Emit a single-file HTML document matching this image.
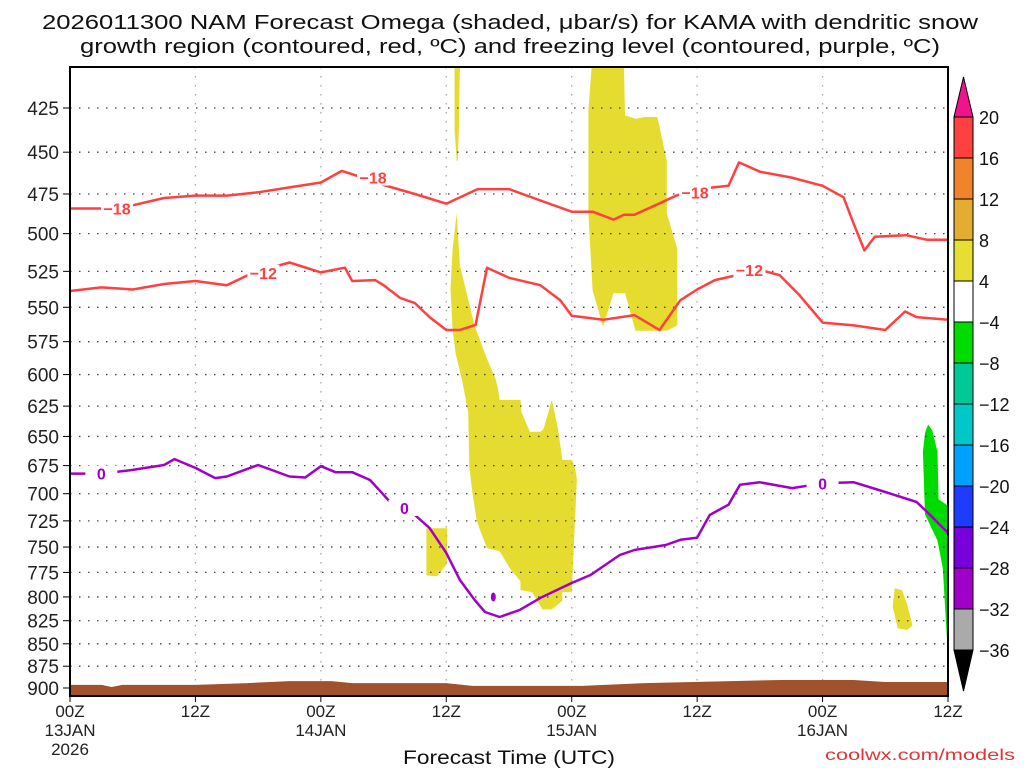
<!DOCTYPE html>
<html><head><meta charset="utf-8"><style>
html,body{margin:0;padding:0;background:#fff;width:1024px;height:768px;overflow:hidden}
svg text{font-family:"Liberation Sans",sans-serif}
</style></head><body>
<svg id="chart" width="1024" height="768" xmlns="http://www.w3.org/2000/svg">
<g id="plot"></g>
<g id="axes"></g>
<g id="cbar"></g>
<text x="510" y="29" text-anchor="middle" font-size="20" textLength="936" lengthAdjust="spacingAndGlyphs" fill="#111">2026011300 NAM Forecast Omega (shaded, μbar/s) for KAMA with dendritic snow</text>
<text x="510" y="53" text-anchor="middle" font-size="20" textLength="860" lengthAdjust="spacingAndGlyphs" fill="#111">growth region (contoured, red, ºC) and freezing level (contoured, purple, ºC)</text>
<text x="509" y="764" text-anchor="middle" font-size="19" textLength="212" lengthAdjust="spacingAndGlyphs" fill="#111">Forecast Time (UTC)</text>
<text x="1015" y="760" text-anchor="end" font-size="16" textLength="190" lengthAdjust="spacingAndGlyphs" fill="#e03535">coolwx.com/models</text>
</svg>
<script>
const NS="http://www.w3.org/2000/svg";
// ---- data ----
const xTickHours=[0,12,24,36,48,60,72,84];
const xTickLine1=["00Z","12Z","00Z","12Z","00Z","12Z","00Z","12Z"];
const xTickLine2=["13JAN","","14JAN","","15JAN","","16JAN",""];
const yTicks=[425,450,475,500,525,550,575,600,625,650,675,700,725,750,775,800,825,850,875,900];
const cbLevels=[20,16,12,8,4,-4,-8,-12,-16,-20,-24,-28,-32,-36];
const cbColors=["#ff4040","#f0842c","#e4ac30","#e6de32","#ffffff","#00dc00","#00c896","#00c8c8","#00a0ff","#1e3cff","#7800dc","#a000c8","#aaaaaa"];
const isoM18=[[0,484],[3,484],[6,482],[9,477.5],[12,476],[15,476],[18,474],[21,471],[24,468],[26,461],[27,463],[30,469.5],[33,475],[36,481],[39,472],[42,472],[45,479],[48,486],[50,486],[52,491],[53,488],[54,488],[56,482],[58,476],[60,472],[63,470],[64,456],[66,461.5],[69,465],[72,470],[74,477],[75,494],[76,511],[77,502],[80,501],[82,504],[84,504]];
const isoM12=[[0,538.5],[3,536],[6,537.5],[9,533.7],[12,531.6],[15,534.5],[17,527.6],[18,525],[21,519],[24,525.7],[26.3,522.5],[27,531.6],[29.2,531],[30,534.5],[31.6,543.4],[33,547],[34.4,557],[36,566.4],[37.3,566.4],[38.8,562.7],[39.9,522.5],[42,529.4],[45,534.5],[46.9,545],[48,556],[51,559],[54,555.6],[56.4,566.4],[58.4,545],[60,537.5],[61.7,531],[66,524],[67.9,527.6],[69.8,541.5],[72,561],[75,563],[78,566.4],[79.9,553],[81,557],[84,559]];
const iso0=[[0,682],[3,682],[6,678.8],[9,674.5],[10,669.3],[12,677],[13.9,686],[15,684.6],[18,674.5],[21,684.6],[22.5,685.5],[24,675.5],[25.4,680.8],[27,680.8],[28.7,687.7],[30,701],[31.1,713],[33,719.5],[34.4,731.8],[36,755.7],[37.3,782.7],[38.7,803],[39.7,815.7],[41.1,821],[43,813.7],[45,801],[48,785.7],[49.8,777.6],[52.6,757.8],[54,752.9],[57,748],[58.4,743],[60,741],[61.2,719.5],[63,710],[64.1,692],[66,689.7],[69.1,694.9],[72,690.6],[75,689.7],[78,698.4],[81,707.5],[82.3,719.5],[84,736.5]];
const ground=[[0,896.4],[3,896.4],[4,898.8],[5,896.4],[12,896.4],[17,894.3],[21,892],[25,892],[27,894.3],[36,894.3],[38.5,897.6],[43,897.6],[49,897.6],[55,894.3],[68,890.8],[75,890.8],[78,893],[84,893]];
const yellowA=[[36.8,403],[37.3,403],[37.2,437.5],[37.1,455],[37.0,455],[36.8,437.5]];
const yellowB=[[37.0,487],[37.3,521],[38.7,563],[39.9,588],[40.7,603],[40.9,609],[41.1,620],[43.1,620],[43.2,630],[44.0,646],[45.0,646],[45.3,644],[46.1,620],[46.7,644],[47.1,670],[48.0,670],[48.3,676],[48.5,687],[48.0,795],[47.1,795],[47.1,804],[46.1,813],[45.2,813],[44.2,795],[43.1,793],[43.1,784],[42.1,771],[41.1,754],[39.9,751],[39.2,733],[38.9,724],[38.5,699],[38.2,676],[38.1,630],[37.5,604],[36.9,584],[36.6,566],[36.4,537],[36.6,510]];
const yellowBlock=[[34.1,732],[36.1,732],[36.1,766],[35.1,779],[34.1,778]];
const yellowC=[[49.9,403],[53.0,403],[53.1,429],[54.1,431],[55.0,430],[56.2,430],[57.1,455],[57.1,487],[58.1,510],[58.1,563],[57.1,567],[54.1,567],[53.1,540],[52.0,540],[51.0,564],[50.0,538],[49.6,487],[49.6,426]];
const yellowD=[[78.9,791],[79.6,793],[80.1,808],[80.6,830],[80.1,835],[79.2,833],[78.7,810]];
const greenE=[[82.1,640],[82.5,645],[83.0,663],[83.1,705],[84,711],[84,843],[83.9,846],[83.5,771],[83.0,744],[81.8,719],[81.6,663],[81.8,647]];
const labelsM18=[[4.5,484],[29,465],[59.8,474]];
const labelsM12=[[18.5,526],[65,524]];
const labels0=[[3,682],[32,713],[72,690.6]];
const dot0=[40.5,800];
// ---- scales ----
const X0=70,X1=948,Ytop=67,Ybot=696,H=84;
const x=h=>X0+h*(X1-X0)/H;
const y=p=>108+773*Math.log(p/425);
const pts=a=>a.map(d=>x(d[0]).toFixed(1)+","+y(d[1]).toFixed(1)).join(" ");
function mk(tag,attrs,parent){const e=document.createElementNS(NS,tag);for(const k in attrs)e.setAttribute(k,attrs[k]);parent.appendChild(e);return e;}
const plot=document.getElementById("plot"),axes=document.getElementById("axes"),cbar=document.getElementById("cbar");
const defs=mk("defs",{},plot);
const cp=mk("clipPath",{id:"clip"},defs);mk("rect",{x:X0,y:Ytop,width:X1-X0,height:Ybot-Ytop},cp);
const g=mk("g",{"clip-path":"url(#clip)"},plot);
[[yellowA,"#e6dc30","shade-yellow-a"],[yellowB,"#e6dc30","shade-yellow-b"],[yellowBlock,"#e6dc30","shade-yellow-block"],[yellowC,"#e6dc30","shade-yellow-c"],[yellowD,"#e6dc30","shade-yellow-d"],[greenE,"#00dc00","shade-green"]].forEach(s=>{
 const e=mk("polygon",{points:pts(s[0]),fill:s[1]},g);
 
 
});
yTicks.forEach(p=>{const e=mk("line",{x1:X0,x2:X1,y1:y(p),y2:y(p),stroke:"#444","stroke-width":1.3,"stroke-dasharray":"1.5,7.5"},g);
 
 });
xTickHours.forEach(h=>{const e=mk("line",{x1:x(h),x2:x(h),y1:Ytop,y2:Ybot,stroke:"#aaa","stroke-width":1.3,"stroke-dasharray":"1.5,7.5"},g);
 
 });
const gpoly=mk("polygon",{points:pts(ground)+" "+x(84)+","+Ybot+" "+x(0)+","+Ybot,fill:"#a0522d"},g);


function line(d,c,name,w){const e=mk("polyline",{points:pts(d),fill:"none",stroke:c,"stroke-width":w,"stroke-linejoin":"round"},g);
 
 }
line(isoM18,"#ff4040","isotherm-minus18",2.5);
line(isoM12,"#ff4040","isotherm-minus12",2.5);
line(iso0,"#a000c8","freezing-level-0",2.5);
const dot=mk("ellipse",{cx:x(dot0[0]),cy:y(dot0[1]),rx:2.5,ry:4.5,fill:"#a000c8"},g);


function labs(arr,txt,c,name){arr.forEach(d=>{
 const r=mk("rect",{x:x(d[0])-16,y:y(d[1])-8,width:32,height:16,fill:"#fff"},g);
 
 
 const t=mk("text",{x:x(d[0]),y:y(d[1])+6,"text-anchor":"middle","font-size":16,"font-weight":"bold",fill:c},g);t.textContent=txt;
 
 });}
labs(labelsM18,"−18","#ff4040","label-minus18");
labs(labelsM12,"−12","#ff4040","label-minus12");
labs(labels0,"0","#a000c8","label-zero");
const fr=mk("rect",{x:X0,y:Ytop,width:X1-X0,height:Ybot-Ytop,fill:"none",stroke:"#000","stroke-width":2},axes);


yTicks.forEach(p=>{
 const tk=mk("line",{x1:X0-7,x2:X0,y1:y(p),y2:y(p),stroke:"#000","stroke-width":1},axes);
 
 
 const t=mk("text",{x:59,y:y(p)+7,"text-anchor":"end","font-size":19,fill:"#222"},axes);t.textContent=p;
 
 });
xTickHours.forEach((h,i)=>{
 const tk=mk("line",{x1:x(h),x2:x(h),y1:Ybot,y2:Ybot+6,stroke:"#000"},axes);
 
 
 const t=mk("text",{x:x(h),y:717,"text-anchor":"middle","font-size":17,fill:"#222"},axes);t.textContent=xTickLine1[i];
 
 
 if(xTickLine2[i]){const t2=mk("text",{x:x(h),y:736,"text-anchor":"middle","font-size":17,fill:"#222"},axes);t2.textContent=xTickLine2[i];
 
 }
});
const yr=mk("text",{x:x(0),y:755,"text-anchor":"middle","font-size":17,fill:"#222"},axes);yr.textContent="2026";


const CX=954,CW=19,CT=117,BH=41;
const tri1=mk("polygon",{points:`${CX},${CT} ${CX+CW},${CT} ${CX+CW/2},77`,fill:"#f0148c",stroke:"#000"},cbar);


cbColors.forEach((c,i)=>{const r=mk("rect",{x:CX,y:CT+i*BH,width:CW,height:BH,fill:c,stroke:"#000","stroke-width":1},cbar);
 
 });
const yb=CT+cbColors.length*BH;
const tri2=mk("polygon",{points:`${CX},${yb} ${CX+CW},${yb} ${CX+CW/2},691`,fill:"#000",stroke:"#000"},cbar);


cbLevels.forEach((v,i)=>{const t=mk("text",{x:979,y:CT+i*BH+7,"font-size":18,fill:"#111"},cbar);t.textContent=v<0?"−"+(-v):v;
 
 });
</script>
</body></html>
